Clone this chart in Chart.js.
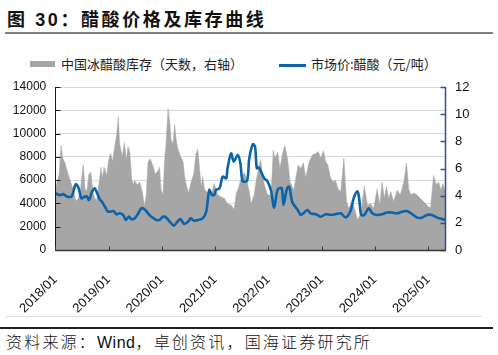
<!DOCTYPE html>
<html>
<head>
<meta charset="utf-8">
<script src="https://cdn.jsdelivr.net/npm/chart.js@4.4.1/dist/chart.umd.min.js"></script>
<style>
  html,body{margin:0;padding:0;background:#fff;}
  body{width:498px;height:355px;position:relative;overflow:hidden;font-family:"Liberation Sans","Noto Sans CJK SC",sans-serif;}
  #title{position:absolute;left:7px;top:5px;font-size:18px;font-weight:bold;letter-spacing:2.6px;color:#111;white-space:nowrap;font-family:"Liberation Sans","Noto Sans CJK SC",sans-serif;}
  #tline{position:absolute;left:5px;top:32px;width:488px;height:2px;background:#7f7f7f;}
  .leg{position:absolute;top:55px;font-size:13px;color:#222;white-space:nowrap;line-height:17px;font-family:"Noto Sans CJK SC",sans-serif;}
  #legBox{position:absolute;left:30px;top:61px;width:25px;height:6px;background:#a6a6a6;}
  #legLine{position:absolute;left:279px;top:64px;width:27px;height:3px;background:#0b64ab;}
  #wrap{position:absolute;left:0;top:70px;width:498px;height:245px;}
  #fline1{position:absolute;left:5px;top:316px;width:477px;height:1px;background:#e0e0e0;}
  #fline2{position:absolute;left:0;top:327px;width:493px;height:1.5px;background:#222;}
  #foot{position:absolute;left:6px;top:331px;font-size:16px;letter-spacing:2.2px;color:#111;white-space:nowrap;font-family:"Noto Sans CJK SC",sans-serif;font-weight:300;line-height:20px;}
  #foot .lat{font-family:"Liberation Sans",sans-serif;font-weight:normal;letter-spacing:0.5px;}
</style>
</head>
<body>
<div id="title">图 30：醋酸价格及库存曲线</div>
<div id="tline"></div>
<div id="legBox"></div>
<div class="leg" style="left:61px">中国冰醋酸库存（天数，右轴）</div>
<div id="legLine"></div>
<div class="leg" style="left:311px">市场价:醋酸（元/吨）</div>
<div id="wrap"><canvas id="c" width="498" height="245"></canvas></div>
<div id="fline1"></div>
<div id="fline2"></div>
<div id="foot">资料来源：<span class="lat">Wind</span>，卓创资讯，国海证券研究所</div>
<script>
// x values are months since 2018/01
const startYear = 2018;
const yearTicks = [0, 12, 24, 36, 48, 60, 72, 84];

const invMonths = [0,0.4,0.9,1.3,1.7,2.2,2.6,3.0,3.7,4.2,4.6,5.2,5.7,6.3,6.7,7.1,7.6,8.0,8.6,9.3,9.9,10.3,10.6,11.0,11.6,
  12.1,12.5,12.9,13.4,13.8,14.2,14.5,15.1,15.6,16.0,16.4,16.8,17.2,17.5,17.9,18.5,19.0,19.6,20.1,20.5,20.9,21.4,22.0,22.5,23.1,23.5,23.8,
  24.3,24.6,25.0,25.4,25.8,26.1,26.5,26.9,27.3,27.6,28.2,28.8,29.1,29.5,30.0,30.6,31.2,31.7,32.1,32.5,32.9,33.2,33.6,34.0,34.5,35.1,35.8,
  36.5,37.3,38.1,38.8,39.6,40.3,40.8,41.3,41.8,42.6,43.2,43.7,44.1,44.8,45.3,45.9,46.3,46.7,47.1,47.8,
  48.6,49.1,49.5,50.1,50.6,51.2,51.7,52.3,52.9,53.7,54.2,54.7,55.3,55.9,56.4,57.2,57.9,58.7,59.2,59.8,
  60.4,60.9,61.4,62.0,62.6,63.1,63.7,64.3,65.0,65.6,66.1,66.9,67.6,68.1,68.9,69.6,70.3,71.0,71.7,
  72.5,73.1,73.6,74.1,74.6,75.1,75.6,76.2,77.0,77.7,78.5,79.1,79.6,80.1,80.7,81.5,82.2,83.0,83.7,
  84.5,85.2,85.8,86.3,86.9,87.3,87.8];
const invDays = [4.4,5.0,5.6,7.7,6.75,6.4,5.9,5.5,4.8,4.3,3.6,3.8,4.5,6.3,4.5,4.3,5.6,5.7,4.05,3.6,5.0,6.1,5.3,6.1,5.5,
  6.75,7.1,6.5,7.6,8.4,9.8,7.8,6.9,7.9,6.6,7.6,7.2,5.3,4.8,5.1,4.8,5.0,4.3,3.2,4.05,6.5,6.7,6.2,5.6,5.8,6.1,4.5,
  4.05,6.5,8.0,10.4,9.4,8.1,7.8,9.2,8.0,7.5,6.9,6.5,5.5,4.8,4.2,5.0,5.6,7.1,7.4,6.0,4.6,5.4,4.5,4.3,4.2,4.0,4.9,
  4.1,3.9,3.8,3.4,3.3,3.0,4.2,4.6,5.2,5.7,5.0,4.3,3.4,4.05,5.2,6.2,6.6,5.4,4.8,4.05,
  4.05,7.35,6.75,7.2,6.0,7.1,7.7,6.75,5.0,4.4,5.3,6.25,6.0,6.4,5.3,6.5,7.0,7.1,7.25,6.75,
  7.3,6.5,6.25,5.3,5.0,5.15,4.5,4.3,6.75,3.55,3.05,3.55,2.8,2.2,2.8,4.7,3.3,3.4,3.05,
  4.5,3.3,5.0,3.8,4.65,3.8,4.3,3.55,4.4,4.05,5.0,6.4,4.5,4.05,4.2,4.05,3.8,3.55,3.3,
  3.05,5.5,4.8,5.0,4.4,4.9,4.3];

const priceMonths = [0,1.1,1.8,2.6,3.7,4.6,5.2,5.9,6.5,7.1,7.6,8.3,8.9,9.3,10.1,10.4,11.2,11.9,
  13.1,13.8,14.5,15.3,15.9,16.6,17.2,17.9,18.7,19.4,20.1,20.9,21.6,22.8,23.5,
  24.3,25.0,25.8,26.7,27.5,28.2,29.0,29.9,30.5,31.2,32.1,33.2,34.0,34.7,35.3,35.8,
  36.2,37.0,37.7,38.5,38.8,39.6,40.2,41.1,41.7,42.2,43.2,43.7,44.5,45.0,45.4,45.9,46.5,47.1,47.8,
  48.6,49.3,50.1,51.0,51.4,52.2,52.7,53.4,54.6,55.3,56.0,56.8,57.5,58.7,59.8,
  60.9,62.0,63.1,64.3,65.4,66.5,67.2,68.0,68.4,68.9,69.6,70.6,71.4,
  72.5,73.6,74.7,75.9,77.0,78.1,79.2,80.4,81.5,82.6,83.7,84.8,86.0,87.1,87.8];
const priceValues = [4870,4700,4800,4600,4600,5640,5400,4440,4550,4600,4300,5010,5300,5000,4300,4200,3720,3290,
  3350,3070,3150,3010,2580,2870,2630,2720,3150,3580,3500,3150,2870,2580,2580,
  2870,2780,2430,2090,2430,2660,2240,2430,2720,2520,2580,2720,3290,5150,4720,4720,
  5150,5300,6300,6150,7020,8300,7590,8160,7450,5930,5930,7870,9080,8880,7020,7070,6600,6150,5900,
  5100,3650,5200,5300,3870,5300,5440,4100,3440,3010,3200,3440,3150,3070,2860,
  3070,3010,3070,3150,2800,3350,4440,5030,4580,3010,3010,3580,3150,
  3010,3070,3220,3220,3150,3290,3350,3070,2780,2780,3010,3010,2780,2660,2580];

const invData = invMonths.map((m, i) => ({x: m, y: invDays[i]}));
const priceData = priceMonths.map((m, i) => ({x: m, y: priceValues[i]}));

function seg(ctx, x1, y1, x2, y2) { ctx.beginPath(); ctx.moveTo(x1, y1); ctx.lineTo(x2, y2); ctx.stroke(); }

const axesOverlay = {
  id: 'axesOverlay',
  afterDatasetsDraw(chart) {
    const {ctx, chartArea: a, scales} = chart;
    const L = Math.round(a.left) + 0.5, R = Math.round(a.right) - 0.5, B = Math.round(a.bottom) + 0.5, T = a.top;
    ctx.save();
    ctx.lineWidth = 1;
    ctx.strokeStyle = '#1a1a1a';
    seg(ctx, L, T, L, B);
    scales.y.ticks.forEach(t => { const p = Math.round(scales.y.getPixelForValue(t.value)) + 0.5; seg(ctx, L, p, L + 5, p); });
    ctx.strokeStyle = '#2f4f8f';
    ctx.lineWidth = 1.5;
    seg(ctx, R, T, R, B);
    scales.y1.ticks.forEach(t => { const p = Math.round(scales.y1.getPixelForValue(t.value)) + 0.5; seg(ctx, R - 5, p, R, p); });
    ctx.strokeStyle = '#3a3a3a';
    ctx.lineWidth = 1.5;
    seg(ctx, a.left, B, a.right, B);
    ctx.lineWidth = 1;
    yearTicks.forEach(v => { const p = Math.round(scales.x.getPixelForValue(v)) + 0.5; seg(ctx, p, B, p, B - 4); });
    ctx.restore();
  }
};

new Chart(document.getElementById('c'), {
  type: 'line',
  data: {
    datasets: [
      {
        label: '市场价:醋酸（元/吨）',
        data: priceData,
        yAxisID: 'y',
        borderColor: '#0b64ab',
        borderWidth: 2.6,
        pointRadius: 0,
        tension: 0.3,
        fill: false,
        order: 1
      },
      {
        label: '中国冰醋酸库存（天数，右轴）',
        data: invData,
        yAxisID: 'y1',
        borderColor: '#a6a6a6',
        backgroundColor: '#a6a6a6',
        borderWidth: 0.5,
        pointRadius: 0,
        tension: 0,
        fill: 'origin',
        order: 2
      }
    ]
  },
  plugins: [axesOverlay],
  options: {
    responsive: false,
    animation: false,
    devicePixelRatio: 1,
    layout: { padding: { top: 17, left: 0, right: 0, bottom: 0 } },
    plugins: { legend: { display: false }, tooltip: { enabled: false } },
    scales: {
      x: {
        type: 'linear',
        min: 0,
        max: 88,
        afterFit: s => { s.height = 65; },
        afterBuildTicks: s => { s.ticks = yearTicks.map(v => ({value: v})); },
        grid: { display: false, drawTicks: false },
        border: { display: false },
        ticks: {
          autoSkip: false,
          minRotation: 45,
          maxRotation: 45,
          padding: 22,
          color: '#111',
          font: { family: 'Liberation Sans', size: 13 },
          callback: v => (startYear + v / 12) + '/01'
        }
      },
      y: {
        position: 'left',
        min: 0,
        max: 14000,
        afterFit: s => { s.width = 54; },
        grid: { color: '#d9d9d9', lineWidth: 1, drawTicks: false },
        border: { display: false },
        ticks: { stepSize: 2000, padding: 9, color: '#111', font: { family: 'Liberation Sans', size: 12 }, callback: v => String(v) }
      },
      y1: {
        position: 'right',
        min: 0,
        max: 12,
        afterFit: s => { s.width = 52; },
        grid: { display: false, drawTicks: false },
        border: { display: false },
        ticks: { stepSize: 2, padding: 9, color: '#111', font: { family: 'Liberation Sans', size: 13 }, callback: v => String(v) }
      }
    }
  }
});
</script>
</body>
</html>
